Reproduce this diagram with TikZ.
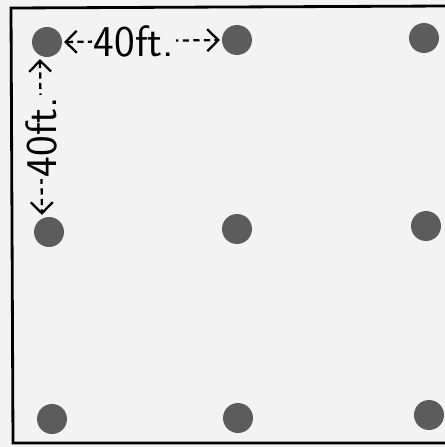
\documentclass[tikz,border=0pt]{standalone}
\usepackage{xcolor}
\usetikzlibrary{arrows.meta,positioning}
\definecolor{paper}{HTML}{F3F3F3}
\definecolor{post}{HTML}{5C5C5C}

\begin{document}
\begin{tikzpicture}[
      x=0.02cm,y=-0.02cm,
      every node/.style={font=\sffamily\fontsize{25}{27}\selectfont},
      postdot/.style={circle,fill=post,minimum size=0.6cm,inner sep=0pt},
      gap/.style={dash pattern=on 3.5pt off 2.5pt,line width=1.3pt,
        {Straight Barb[length=2.2mm]}-{Straight Barb[length=2.2mm]},shorten <=1pt,shorten >=1pt},
      tag/.style={fill=paper,inner sep=1pt}
  ]
    \fill[paper] (0,0) rectangle (445,447);
    \useasboundingbox (0,0) rectangle (445,447);
    \draw[line width=1.6pt] (445,6) -- (11,8) -- (13,443) -- (445,443);

    \node[postdot] (p11) at (47,42) {};
    \node[postdot] (p12) at (237,40) {};
    \node[postdot] (p13) at (424,38) {};
    \node[postdot] (p21) at (49,232) {};
    \node[postdot] (p22) at (237,229) {};
    \node[postdot] (p23) at (426,226) {};
    \node[postdot] (p31) at (52,419) {};
    \node[postdot] (p32) at (238,418) {};
    \node[postdot] (p33) at (429,415) {};

    \draw[gap] (p11.east) -- node[tag,pos=0.45] {40ft.} (p12.west);
    \draw[gap] ([xshift=-4pt]p11.south) -- node[tag,rotate=90] {40ft.} ([xshift=-4pt]p21.north);
  \end{tikzpicture}
\end{document}
